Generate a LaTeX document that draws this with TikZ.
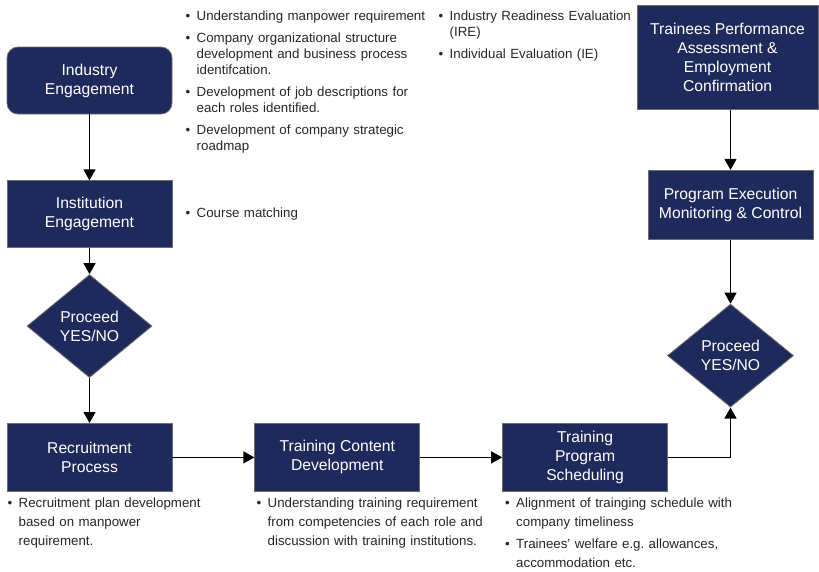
\documentclass[tikz,border=0pt]{standalone}
\usepackage{fontspec}
\setmainfont{Liberation Sans}
\usetikzlibrary{shapes.geometric, arrows.meta, positioning}
\definecolor{navy}{HTML}{1F2A5C}
\definecolor{rim}{HTML}{6E6E6E}
\newlength{\itemgap}
\setlength{\itemgap}{6pt}
\newcommand{\bitem}[1]{\hangindent=11pt\hangafter=1\noindent\makebox[11pt][l]{\textbullet}\begingroup\let\\\newline #1\endgroup\par\vspace{\itemgap}}

\begin{document}
\begin{tikzpicture}[
  x=1pt, y=1pt,
  block/.style={rectangle, draw=rim, fill=navy, line width=0.8pt, text=white, minimum width=165pt, minimum height=67pt, align=center, inner sep=2pt, font=\fontsize{15.7}{19}\selectfont},
  decision/.style={diamond, draw=rim, fill=navy, line width=0.8pt, text=white, minimum width=125pt, minimum height=103pt, inner sep=0pt, align=center, font=\fontsize{15.7}{19}\selectfont},
  note/.style={anchor=north west, inner sep=0pt, text width=250pt, align=left, text=black!85, font=\fontsize{13.3}{16}\selectfont\setlength{\parskip}{0pt}},
  line/.style={draw, -{Triangle[length=11pt,width=12pt]}, line width=1.2pt}
]
  \useasboundingbox (0,0) rectangle (819,-571);

  % left column
  \node [block, rounded corners=11pt] (ind) at (89.5,-80.5) {Industry\\Engagement};
  \node [block, below=66pt of ind] (inst) {Institution\\Engagement};
  \node [decision, below=26pt of inst] (dec1) {Proceed\\YES/NO};

  % bottom row
  \node [block, below=45pt of dec1, minimum height=68pt] (rec) {Recruitment\\Process};
  \node [block, right=82pt of rec, minimum height=68pt] (tcd) {Training Content\\Development};
  \node [block, right=82pt of tcd, minimum height=68pt] (tps) {Training\\Program\\Scheduling};

  % right column
  \node [block, minimum width=181pt, minimum height=104pt] (tpa) at (727.5,-57.5) {Trainees Performance\\Assessment \&\\Employment\\Confirmation};
  \node [block, below=60pt of tpa, xshift=3pt, minimum height=69pt] (pem) {Program Execution\\Monitoring \& Control};
  \node [decision, below=64pt of pem, minimum width=126pt] (dec2) {Proceed\\YES/NO};

  % notes
  \node [note] (indtext) at (185.5,-10.3) {\bitem{Understanding manpower requirement}\bitem{Company organizational structure\\development and business process\\identifcation.}\bitem{Development of job descriptions for\\each roles identified.}\bitem{Development of company strategic\\roadmap}};
  \node [note] (tpatext) at (438.5,-10.3) {\bitem{Industry Readiness Evaluation\\(IRE)}\bitem{Individual Evaluation (IE)}};
  \node [note] (insttext) at (185.5,-207.3) {\bitem{Course matching}};

  \setlength{\itemgap}{3pt}
  \node [note, font=\fontsize{13.3}{19}\selectfont] (rectext) at (7.5,-497.3) {\bitem{Recruitment plan development\\based on manpower\\requirement.}};
  \node [note, font=\fontsize{13.3}{19}\selectfont] (tcdtext) at (256.5,-497.3) {\bitem{Understanding training requirement\\from competencies of each role and\\discussion with training institutions.}};
  \node [note, font=\fontsize{13.3}{19}\selectfont] (tpstext) at (505,-497.3) {\bitem{Alignment of trainging schedule with\\company timeliness}\bitem{Trainees' welfare e.g.\ allowances,\\accommodation etc.}};

  % connectors
  \draw [line] (ind) -- (inst);
  \draw [line] (inst) -- (dec1);
  \draw [line] (dec1) -- (rec);
  \draw [line] (rec) -- (tcd);
  \draw [line] (tcd) -- (tps);
  \draw [line] (tps.east) -| (dec2.south);
  \draw [line] (tpa.south -| pem.north) -- (pem.north);
  \draw [line] (pem) -- (dec2);
\end{tikzpicture}
\end{document}
